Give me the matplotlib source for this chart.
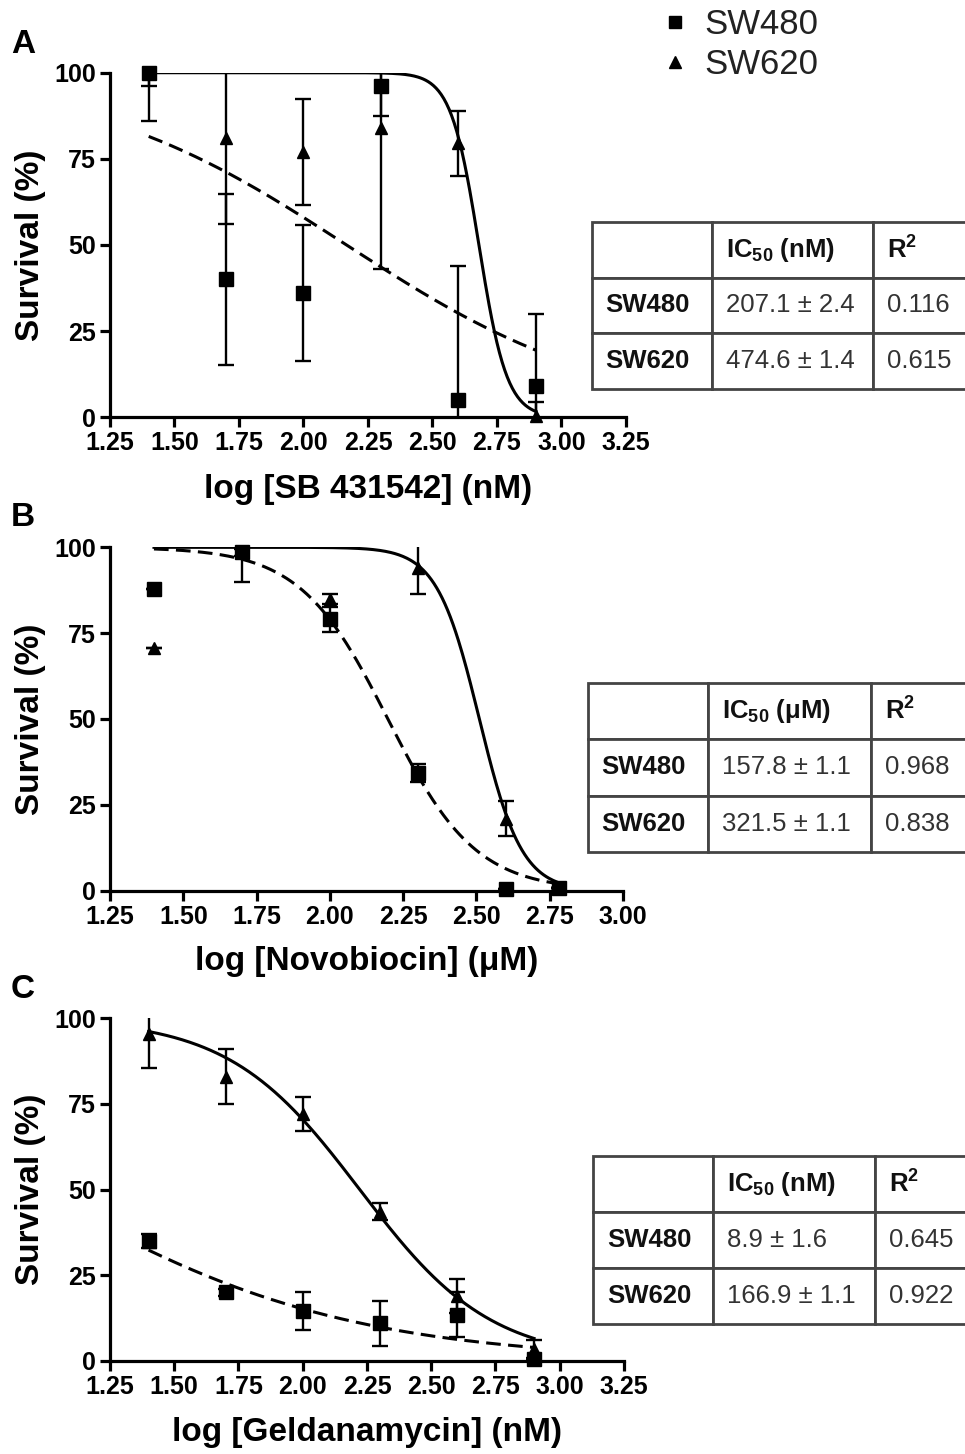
import numpy as np
import matplotlib
matplotlib.use('Agg')
import matplotlib.pyplot as plt
from matplotlib.lines import Line2D

plt.rcParams['font.family'] = ['Liberation Sans', 'DejaVu Sans']
plt.rcParams['mathtext.default'] = 'regular'

# ---------------- data ----------------
# Panel A: SB 431542 (nM)
a_x = [1.4, 1.7, 2.0, 2.3, 2.6, 2.9]
a_sw480 = [100, 40, 36, 96, 5, 9]
a_sw480_sd = [14, 24.7, 19.7, 8.5, 39, 21]
a_sw620 = [100, 81, 77, 84, 79.5, 0.5]
a_sw620_sd = [4, 25, 15.5, 41, 9.5, 4]
# fitted curves (log IC50 of curve, Hill slope)
a_fit_sw480 = (2.167, 0.84)
a_fit_sw620 = (2.68, 8.0)

# Panel B: Novobiocin (uM)
b_x = [1.4, 1.7, 2.0, 2.3, 2.6, 2.78]
b_sw480 = [88, 98.5, 79, 34.3, 0.5, 0.7]
b_sw480_sd = [0, 1, 3.7, 2.7, 0, 0]
b_sw620 = [70.6, 99, 85, 94, 21, 0.7]
b_sw620_sd = [0, 9, 1.5, 7.5, 5, 0]
b_fit_sw480 = (2.198, 2.9)
b_fit_sw620 = (2.51, 6.0)

# Panel C: Geldanamycin (nM)
c_x = [1.4, 1.7, 2.0, 2.3, 2.6, 2.9]
c_sw480 = [35, 20, 14.5, 11, 13.5, 0.5]
c_sw480_sd = [2, 1, 5.5, 6.5, 6.5, 0]
c_sw620 = [95.5, 83, 72, 43.5, 19, 3.5]
c_sw620_sd = [10, 8, 5, 2.5, 5, 2.5]
c_fit_sw480 = (0.949, 0.71)
c_fit_sw620 = (2.222, 1.7)

y_ticks = [0, 25, 50, 75, 100]
a_xticks = ['1.25', '1.50', '1.75', '2.00', '2.25', '2.50', '2.75', '3.00', '3.25']
b_xticks = ['1.25', '1.50', '1.75', '2.00', '2.25', '2.50', '2.75', '3.00']
c_xticks = ['1.25', '1.50', '1.75', '2.00', '2.25', '2.50', '2.75', '3.00', '3.25']

a_xlabel = 'log [SB 431542] (nM)'
b_xlabel = 'log [Novobiocin] (\u03bcM)'
c_xlabel = 'log [Geldanamycin] (nM)'
y_label = 'Survival (%)'
series_names = ['SW480', 'SW620']

table_cols_a = ['', 'IC$_{50}$ (nM)', 'R$^{2}$']
table_cols_b = ['', 'IC$_{50}$ (\u03bcM)', 'R$^{2}$']
table_cols_c = ['', 'IC$_{50}$ (nM)', 'R$^{2}$']
table_a_ic50 = ['207.1 \u00b1 2.4', '474.6 \u00b1 1.4']
table_a_r2 = ['0.116', '0.615']
table_b_ic50 = ['157.8 \u00b1 1.1', '321.5 \u00b1 1.1']
table_b_r2 = ['0.968', '0.838']
table_c_ic50 = ['8.9 \u00b1 1.6', '166.9 \u00b1 1.1']
table_c_r2 = ['0.645', '0.922']

# ---------------- figure ----------------
W, H = 965, 1454
fig = plt.figure(figsize=(W / 100, H / 100), dpi=100)


def px_axes(l, t, r, b):
    return fig.add_axes([l / W, 1 - b / H, (r - l) / W, (b - t) / H])


def sigmoid(x, p):
    c, h = p
    return 100.0 / (1.0 + 10 ** ((x - c) * h))


def panel(ax, x, s480, e480, s620, e620, f480, f620, xmax, xticks, xlabel, xlab_y):
    x = np.asarray(x)
    xx = np.linspace(x.min(), x.max(), 300)
    ax.plot(xx, sigmoid(xx, f480), color='k', lw=2.2, dashes=(4.8, 2.4), zorder=2)
    ax.plot(xx, sigmoid(xx, f620), color='k', lw=2.2, zorder=2)
    for y, e in ((s480, e480), (s620, e620)):
        ax.errorbar(x, y, yerr=e, fmt='none', ecolor='k', elinewidth=1.7,
                    capsize=5.5, capthick=1.7, zorder=3)
    ax.plot(x, s480, 's', color='k', ms=9.5, clip_on=False, zorder=4)
    ax.plot(x, s620, '^', color='k', ms=9, clip_on=False, zorder=4)
    ax.set_xlim(1.25, xmax)
    ax.set_ylim(0, 100)
    ax.set_yticks(y_ticks)
    ax.set_yticklabels([str(v) for v in y_ticks])
    ax.set_xticks([float(t) for t in xticks])
    ax.set_xticklabels(xticks)
    for s in ('top', 'right'):
        ax.spines[s].set_visible(False)
    for s in ('left', 'bottom'):
        ax.spines[s].set_linewidth(2.3)
    ax.tick_params(direction='out', length=7, width=2.3, labelsize=18, pad=3)
    for lab in ax.get_xticklabels() + ax.get_yticklabels():
        lab.set_fontweight('bold')
    ax.set_xlabel(xlabel, fontsize=24, fontweight='bold')
    ax.set_ylabel(y_label, fontsize=24, fontweight='bold')
    ax.xaxis.set_label_coords(0.5, xlab_y)
    ax.yaxis.set_label_coords(-0.125, 0.5)


axA = px_axes(110, 72.7, 626, 417.3)
panel(axA, a_x, a_sw480, a_sw480_sd, a_sw620, a_sw620_sd, a_fit_sw480, a_fit_sw620,
      3.25, a_xticks, a_xlabel, -0.165)
axB = px_axes(110, 547.3, 623, 890.7)
panel(axB, b_x, b_sw480, b_sw480_sd, b_sw620, b_sw620_sd, b_fit_sw480, b_fit_sw620,
      3.00, b_xticks, b_xlabel, -0.162)
axC = px_axes(110, 1018.3, 624, 1361)
panel(axC, c_x, c_sw480, c_sw480_sd, c_sw620, c_sw620_sd, c_fit_sw480, c_fit_sw620,
      3.25, c_xticks, c_xlabel, -0.162)

for letter, yb in (('A', 53), ('B', 526), ('C', 998)):
    fig.text(11 / W, 1 - yb / H, letter, fontsize=24, fontweight='bold', va='baseline')

# legend
handles = [Line2D([], [], marker='s', ls='none', color='k', ms=9),
           Line2D([], [], marker='^', ls='none', color='k', ms=9)]
fig.legend(handles, series_names, loc='upper left', bbox_to_anchor=(658 / W, 1 - 5 / H),
           frameon=False, fontsize=25, handlelength=0.8, handletextpad=0.45,
           labelspacing=0.2, borderpad=0.1, borderaxespad=0, labelcolor='#222')


def draw_table(l, t, cols_x, rows_y, cols, ic50, r2):
    right = 1010
    b = rows_y[-1]
    ax = px_axes(l, t, right, b)
    ax.axis('off')
    widths = [cols_x[1] - cols_x[0], cols_x[2] - cols_x[1], right - cols_x[2]]
    tot = sum(widths)
    cell_text = [cols,
                 [series_names[0], ic50[0], r2[0]],
                 [series_names[1], ic50[1], r2[1]]]
    tbl = ax.table(cellText=cell_text, colWidths=[w / tot for w in widths],
                   cellLoc='left', bbox=[0, 0, 1, 1])
    tbl.auto_set_font_size(False)
    for (r, c), cell in tbl.get_celld().items():
        cell.set_edgecolor('#444')
        cell.set_linewidth(2.0)
        cell.PAD = 14.0 / widths[c]
        txt = cell.get_text()
        txt.set_fontsize(18.5)
        if r == 0 or c == 0:
            txt.set_fontweight('bold')
            txt.set_color('#111')
        else:
            txt.set_color('#333')
    return tbl


draw_table(591.5, 221.7, [591.5, 711.7, 872.7], [221.7, 276.7, 333.3, 389.3],
           table_cols_a, table_a_ic50, table_a_r2)
draw_table(587.7, 683.3, [587.7, 708.3, 870.7], [683.3, 740, 796, 851.7],
           table_cols_b, table_b_ic50, table_b_r2)
draw_table(593.3, 1156, [593.3, 713.3, 875], [1156, 1213.3, 1269, 1324.3],
           table_cols_c, table_c_ic50, table_c_r2)

fig.savefig('out.png', dpi=100)
